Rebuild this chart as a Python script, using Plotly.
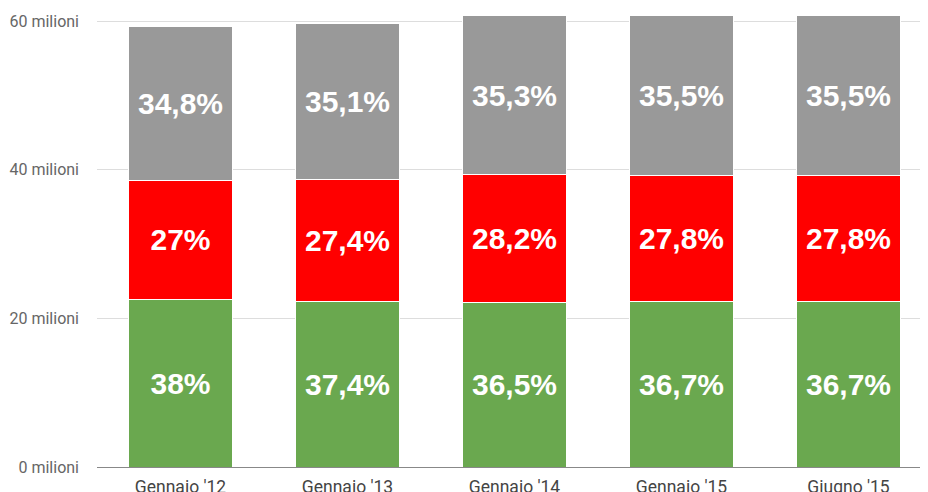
import plotly.graph_objects as go

categories = ["Gennaio '12", "Gennaio '13", "Gennaio '14", "Gennaio '15", "Giugno '15"]
green_vals = [22.57, 22.33, 22.18, 22.31, 22.31]
red_vals = [16.04, 16.36, 17.14, 16.90, 16.90]
gray_vals = [20.67, 20.95, 21.46, 21.58, 21.58]
green_txt = ["38%", "37,4%", "36,5%", "36,7%", "36,7%"]
red_txt = ["27%", "27,4%", "28,2%", "27,8%", "27,8%"]
gray_txt = ["34,8%", "35,1%", "35,3%", "35,5%", "35,5%"]
tick_vals = [0, 20, 40, 60]
tick_text = ["0 milioni", "20 milioni", "40 milioni", "60 milioni"]

fig = go.Figure()
for vals, txt, col in [(green_vals, green_txt, "#6aa84f"),
                       (red_vals, red_txt, "#ff0000"),
                       (gray_vals, gray_txt, "#999999")]:
    fig.add_trace(go.Bar(
        x=list(range(len(categories))), y=vals, text=txt,
        textposition="inside", insidetextanchor="middle",
        textangle=0, constraintext="none",
        textfont=dict(family="Liberation Sans, Arial", size=30, color="white", weight="bold"),
        marker=dict(color=col, line=dict(color="white", width=1)),
        hoverinfo="skip", cliponaxis=True,
    ))

fig.update_layout(
    barmode="stack", bargap=0.383, showlegend=False,
    width=928, height=492,
    margin=dict(l=89, r=8, t=8, b=33, autoexpand=False),
    paper_bgcolor="white", plot_bgcolor="white",
    uniformtext=dict(mode=False),
    xaxis=dict(tickmode="array", tickvals=list(range(len(categories))), ticktext=categories,
               range=[-0.5, 4.476], showgrid=False, showline=False, zeroline=False,
               automargin=False,
               tickfont=dict(family="Roboto, Arial", size=17.5, color="#444444"),
               ticklabelstandoff=7),
    yaxis=dict(range=[0, 60.7], tickmode="array", tickvals=tick_vals, ticktext=tick_text,
               showgrid=True, gridcolor="#dddddd", gridwidth=1,
               zeroline=True, zerolinecolor="#888888", zerolinewidth=1,
               showline=False, automargin=False,
               tickfont=dict(family="Roboto, Arial", size=16, color="#666666"),
               ticklabelstandoff=17),
)

fig.write_html("out.html")
